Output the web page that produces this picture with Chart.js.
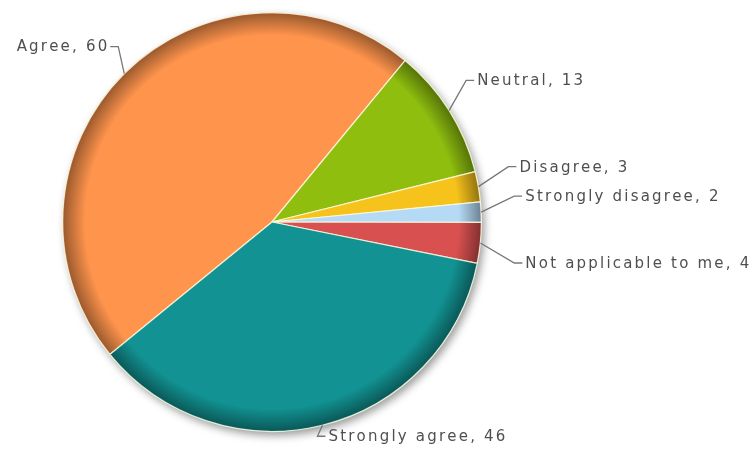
<!DOCTYPE html>
<html>
<head>
<meta charset="utf-8">
<script src="https://cdn.jsdelivr.net/npm/chart.js@4.4.1/dist/chart.umd.min.js"></script>
<style>
html,body{margin:0;padding:0;background:#fff;}
#wrap{width:756px;height:450px;position:relative;}
</style>
</head>
<body>
<div id="wrap"><canvas id="c" width="756" height="450"></canvas></div>
<script>
const categories = ['Agree', 'Neutral', 'Disagree', 'Strongly disagree', 'Not applicable to me', 'Strongly agree'];
const values = [60, 13, 3, 2, 4, 46];
const colors = [[255,148,77],[143,190,15],[246,194,28],[181,218,245],[216,80,80],[18,146,146]];
// leader-line elbow offsets from the slice edge point (style only)
const elbowOffsets = [[-6,-27],[17,-30],[30,-20],[33,-16],[34,20],[-5,11]];

function rgb(c, f){ return 'rgb(' + c.map(v => Math.round(Math.min(255, v*f))).join(',') + ')'; }

const shadowPlugin = {
  id: 'shadow',
  beforeDatasetsDraw(chart){
    const arc = chart.getDatasetMeta(0).data[0];
    if(!arc) return;
    const ctx = chart.ctx;
    ctx.save();
    ctx.shadowColor = 'rgba(0,0,0,0.4)';
    ctx.shadowBlur = 9;
    ctx.shadowOffsetX = 3;
    ctx.shadowOffsetY = 4;
    ctx.fillStyle = '#ddd';
    ctx.beginPath();
    ctx.arc(arc.x, arc.y, arc.outerRadius, 0, Math.PI*2);
    ctx.fill();
    ctx.restore();
  }
};

function drawSpaced(ctx, text, x, y, spacing, alignRight){
  let total = 0;
  const widths = [];
  for(const ch of text){ const w = ctx.measureText(ch).width; widths.push(w); total += w + spacing; }
  total -= spacing;
  let cx = alignRight ? x - total : x;
  let i = 0;
  for(const ch of text){ ctx.fillText(ch, cx, y); cx += widths[i++] + spacing; }
}

const labelPlugin = {
  id: 'leaderLabels',
  afterDatasetsDraw(chart){
    const meta = chart.getDatasetMeta(0);
    const ctx = chart.ctx;
    ctx.save();
    ctx.font = '15px "DejaVu Sans", Verdana, sans-serif';
    ctx.textBaseline = 'middle';
    meta.data.forEach((arc, i) => {
      const mid = (arc.startAngle + arc.endAngle) / 2;
      const r = arc.outerRadius;
      const ex = arc.x + Math.cos(mid) * r;
      const ey = arc.y + Math.sin(mid) * r;
      const bx = ex + elbowOffsets[i][0];
      const by = ey + elbowOffsets[i][1];
      const right = Math.cos(mid) >= 0 || i === meta.data.length - 1;
      const hx = right ? bx + 8 : bx - 8;
      ctx.strokeStyle = '#777';
      ctx.lineWidth = 1.3;
      ctx.beginPath();
      ctx.moveTo(ex, ey);
      ctx.lineTo(bx, by);
      ctx.lineTo(hx, by);
      ctx.stroke();
      ctx.fillStyle = '#4f4f4f';
      const txt = categories[i] + ', ' + values[i];
      drawSpaced(ctx, txt, right ? hx + 3 : hx - 3, by + 1, 2.2, !right);
    });
    ctx.restore();
  }
};

new Chart(document.getElementById('c'), {
  type: 'pie',
  data: {
    labels: categories,
    datasets: [{
      data: values,
      backgroundColor(context){
        const chart = context.chart;
        const c = colors[context.dataIndex];
        const a = chart.chartArea;
        if(!a) return rgb(c,1);
        const cx = (a.left + a.right)/2, cy = (a.top + a.bottom)/2;
        const R = Math.min(a.right - a.left, a.bottom - a.top)/2;
        const g = chart.ctx.createRadialGradient(cx, cy, 0, cx, cy, R);
        g.addColorStop(0, rgb(c,1));
        g.addColorStop(0.89, rgb(c,1));
        g.addColorStop(0.965, rgb(c,0.72));
        g.addColorStop(0.99, rgb(c,0.62));
        g.addColorStop(1, rgb(c,0.9));
        return g;
      },
      borderColor: 'rgba(250,250,225,0.85)',
      borderWidth: 1.2,
      hoverOffset: 0
    }]
  },
  options: {
    responsive: false,
    animation: false,
    rotation: -129.25,
    layout: { padding: { left: 62, right: 274, top: 12, bottom: 18 } },
    plugins: { legend: { display: false }, tooltip: { enabled: false } }
  },
  plugins: [shadowPlugin, labelPlugin]
});
</script>
</body>
</html>
